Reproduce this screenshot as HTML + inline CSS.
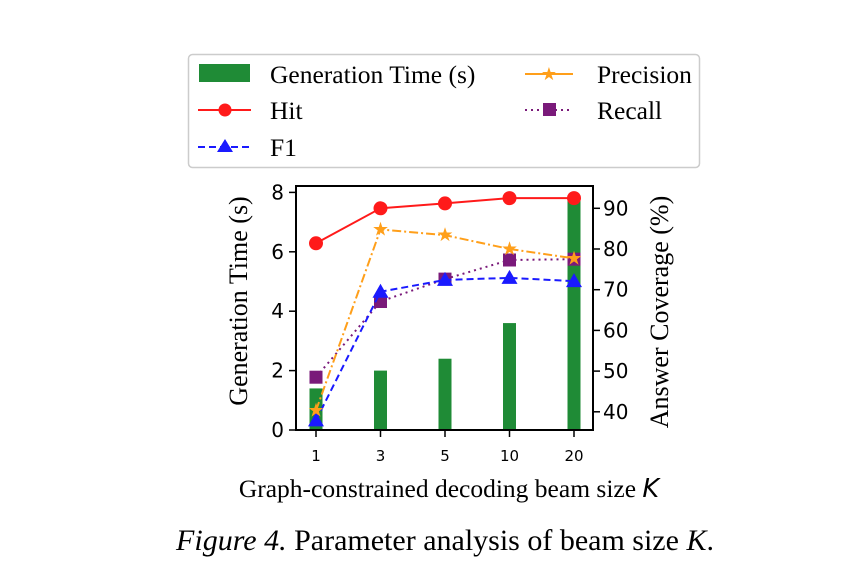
<!DOCTYPE html>
<html><head><meta charset="utf-8"><style>
body{margin:0;background:#fff;}
svg{display:block;}
.serif{font-family:"Liberation Serif",serif;}
.sans{font-family:"DejaVu Sans","Liberation Sans",sans-serif;}
</style></head><body>
<svg id="chart" width="861" height="578" viewBox="0 0 861 578">
<g id="legend">
<rect x="188.5" y="54.5" width="511" height="113" rx="4" fill="#fff" stroke="#ccc" stroke-width="1.5"/>
<rect x="199" y="64" width="51" height="18" fill="#1f8b36"/>
<text x="270" y="83" class="serif" font-size="25.5">Generation Time (s)</text>
<line x1="198" y1="110" x2="251" y2="110" stroke="#ff1a1a" stroke-width="2"/>
<circle cx="225" cy="110" r="6.5" fill="#ff1a1a"/>
<text x="270" y="119" class="serif" font-size="25.5">Hit</text>
<line x1="198" y1="147" x2="251" y2="147" stroke="#1a1aff" stroke-width="2" stroke-dasharray="7,4"/>
<polygon points="225,139 233,152 217,152" fill="#1a1aff"/>
<text x="270" y="156" class="serif" font-size="25.5">F1</text>
<line x1="525" y1="74" x2="573" y2="74" stroke="#ff9f1a" stroke-width="2"/>
<text x="549" y="80" text-anchor="middle" fill="#ff9f1a" font-size="18">★</text>
<text x="597" y="83" class="serif" font-size="25.5">Precision</text>
<line x1="525" y1="110" x2="573" y2="110" stroke="#7a1a7a" stroke-width="2" stroke-dasharray="2,4"/>
<rect x="543" y="103" width="13" height="13" fill="#7a1a7a"/>
<text x="597" y="119" class="serif" font-size="25.5">Recall</text>
</g>
<g id="plot"></g>
<text x="449" y="497" text-anchor="middle" class="serif" font-size="25.5">Graph-constrained decoding beam size <tspan font-style="italic" class="sans">K</tspan></text>
<text x="445" y="550" text-anchor="middle" class="serif" font-size="30"><tspan font-style="italic">Figure 4.</tspan> Parameter analysis of beam size <tspan font-style="italic">K</tspan>.</text>
<text transform="translate(247,301) rotate(-90)" text-anchor="middle" class="serif" font-size="26">Generation Time (s)</text>
<text transform="translate(668,312) rotate(-90)" text-anchor="middle" class="serif" font-size="26">Answer Coverage (%)</text>
</svg>
<script>
const categories=["1","3","5","10","20"];
const genTime=[1.4,2.0,2.4,3.6,7.75];
const hit=[81.4,90.0,91.2,92.5,92.5];
const precision=[40.3,84.8,83.4,80.0,77.7];
const f1=[37.9,69.5,72.4,72.9,72.1];
const recall=[48.5,67.1,72.6,77.3,77.5];
const leftTicks=[0,2,4,6,8];
const rightTicks=[40,50,60,70,80,90];

const NS="http://www.w3.org/2000/svg";
const g=document.getElementById("plot");
const L=296,R=593,T=186,B=430;
const x=i=>316+i*64.5;
const yL=v=>430-v*29.7;
const yR=v=>208.3-(v-90)*4.07;
function mk(tag,attrs,parent){const e=document.createElementNS(NS,tag);for(const k in attrs)e.setAttribute(k,attrs[k]);(parent||g).appendChild(e);return e;}

categories.forEach((c,i)=>{
  const b=mk("rect",{x:x(i)-6.5,y:yL(genTime[i]),width:13,height:B-yL(genTime[i]),fill:"#1f8b36"});
  
  
});
function series(vals,color,dash,name,marker){
  const pts=vals.map((v,i)=>x(i)+","+yR(v)).join(" ");
  const l=mk("polyline",{points:pts,fill:"none",stroke:color,"stroke-width":2,"stroke-dasharray":dash});
  
  
  vals.forEach((v,i)=>{
    const cx=x(i),cy=yR(v);let m;
    if(marker==="circle")m=mk("circle",{cx:cx,cy:cy,r:7,fill:color});
    else if(marker==="tri")m=mk("polygon",{points:`${cx},${cy-8} ${cx+8},${cy+6} ${cx-8},${cy+6}`,fill:color});
    else if(marker==="square")m=mk("rect",{x:cx-6.5,y:cy-6.5,width:13,height:13,fill:color});
    else {m=mk("text",{x:cx,y:cy+6,"text-anchor":"middle",fill:color,"font-size":19});m.textContent="★";}
    
    
  });
}
series(recall,"#7a1a7a","2,4","recall","square");
series(f1,"#1a1aff","7,4","f1","tri");
series(precision,"#ff9f1a","9,3,2,3","precision","star");
series(hit,"#ff1a1a","none","hit","circle");

const frame=mk("rect",{x:L,y:T,width:R-L,height:B-T,fill:"none",stroke:"#000","stroke-width":2});


leftTicks.forEach(v=>{
  mk("line",{x1:L-7,x2:L,y1:yL(v),y2:yL(v),stroke:"#000","stroke-width":1.5});
  const t=mk("text",{x:L-12,y:yL(v)+7,"text-anchor":"end","font-size":20,"font-family":"DejaVu Sans, sans-serif"});
  t.textContent=v;
  
  
});
rightTicks.forEach(v=>{
  mk("line",{x1:R,x2:R+7,y1:yR(v),y2:yR(v),stroke:"#000","stroke-width":1.5});
  const t=mk("text",{x:R+10,y:yR(v)+7,"font-size":20,"font-family":"DejaVu Sans, sans-serif"});
  t.textContent=v;
  
  
});
categories.forEach((c,i)=>{
  mk("line",{x1:x(i),x2:x(i),y1:B,y2:B+7,stroke:"#000","stroke-width":1.5});
  const t=mk("text",{x:x(i),y:B+31,"text-anchor":"middle","font-size":15,"font-family":"DejaVu Sans, sans-serif"});
  t.textContent=c;
  
  
});
</script>
</body></html>
